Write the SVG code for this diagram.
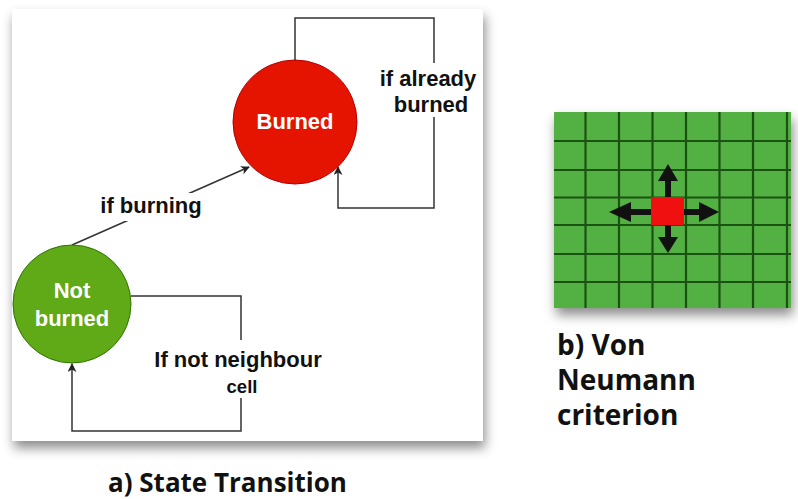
<svg xmlns="http://www.w3.org/2000/svg" width="798" height="499" viewBox="0 0 798 499">
<defs>
<filter id="sh" x="-10%" y="-10%" width="120%" height="125%">
<feDropShadow dx="2" dy="7" stdDeviation="6" flood-color="#000" flood-opacity="0.45"/>
</filter>
<marker id="ah" viewBox="0 0 10 10" refX="9" refY="5" markerWidth="9" markerHeight="9" orient="auto" markerUnits="userSpaceOnUse">
<path d="M0,0 L10,5 L0,10 L3,5 z" fill="#222"/>
</marker>
<style>
.lbl{font-family:"Liberation Sans",Arial,sans-serif;font-weight:bold;font-size:22px;fill:#111;text-anchor:middle}
.ntx{font-family:"Liberation Sans",Arial,sans-serif;font-weight:bold;font-size:22px;fill:#fff;text-anchor:middle}
.cap{font-family:"Open Sans","Liberation Sans",sans-serif;font-weight:bold;font-size:26px;fill:#111}
.capb{font-size:28px}
.edge{fill:none;stroke:#333;stroke-width:1.5}
.gl{stroke:#1a5212;stroke-width:2.2}
</style>
</defs>
<rect width="798" height="499" fill="#fff"/>
<g id="panel-a">
<rect x="12" y="9" width="471" height="432" fill="#fff" filter="url(#sh)"/>
</g>
<g id="connectors">
<path class="edge" d="M72,245 L249,167" marker-end="url(#ah)"/>
<path class="edge" d="M295,60 L295,18 L434,18 L434,208 L338,208 L338,167" marker-end="url(#ah)"/>
<path class="edge" d="M131,296 L241,296 L241,431 L72,431 L72,364" marker-end="url(#ah)"/>
<rect x="95" y="193" width="112" height="28" fill="#fff"/>
<text class="lbl" x="151" y="213">if burning</text>
<rect x="376" y="63" width="104" height="54" fill="#fff"/>
<text class="lbl" x="428" y="86">if already</text>
<text class="lbl" x="431" y="112">burned</text>
<rect x="150" y="340" width="180" height="58" fill="#fff"/>
<text class="lbl" x="238" y="367">If not neighbour</text>
<text class="lbl" x="242" y="393" style="font-size:18.5px">cell</text>
</g>
<g id="node-burned">
<circle cx="295" cy="122" r="62" fill="#e51400" stroke="#b20000" stroke-width="1"/>
<text class="ntx" x="295" y="129">Burned</text>
</g>
<g id="node-notburned">
<circle cx="72" cy="304" r="59" fill="#60a917" stroke="#2d7600" stroke-width="1"/>
<text class="ntx" x="72" y="298">Not</text>
<text class="ntx" x="72" y="326">burned</text>
</g>
<text class="cap" x="108" y="492">a) State Transition</text>
<g id="grid">
<rect x="554" y="112" width="237" height="196" fill="#52b043" filter="url(#sh)"/>
<g class="gl">
<line x1="585.5" y1="112" x2="585.5" y2="308"/>
<line x1="619" y1="112" x2="619" y2="308"/>
<line x1="652.5" y1="112" x2="652.5" y2="308"/>
<line x1="686" y1="112" x2="686" y2="308"/>
<line x1="719.5" y1="112" x2="719.5" y2="308"/>
<line x1="753" y1="112" x2="753" y2="308"/>
<line x1="787" y1="112" x2="787" y2="308"/>
<line x1="554" y1="141" x2="791" y2="141"/>
<line x1="554" y1="170" x2="791" y2="170"/>
<line x1="554" y1="197.5" x2="791" y2="197.5"/>
<line x1="554" y1="225" x2="791" y2="225"/>
<line x1="554" y1="254" x2="791" y2="254"/>
<line x1="554" y1="282" x2="791" y2="282"/>
</g>
<rect x="651" y="197" width="33" height="28" fill="#f01010"/>
<g fill="#111">
<path d="M665,197 L665,181 L658,181 L668,164 L678,181 L671,181 L671,197 z"/>
<path d="M665,225 L665,237 L658,237 L668,253 L678,237 L671,237 L671,225 z"/>
<path d="M651,209 L631,209 L631,202 L609,212 L631,222 L631,215 L651,215 z"/>
<path d="M684,209 L699,209 L699,202 L719,212 L699,222 L699,215 L684,215 z"/>
</g>
</g>
<text class="cap capb" x="557" y="355">b) Von</text>
<text class="cap capb" x="557" y="390">Neumann</text>
<text class="cap capb" x="557" y="425">criterion</text>
</svg>
